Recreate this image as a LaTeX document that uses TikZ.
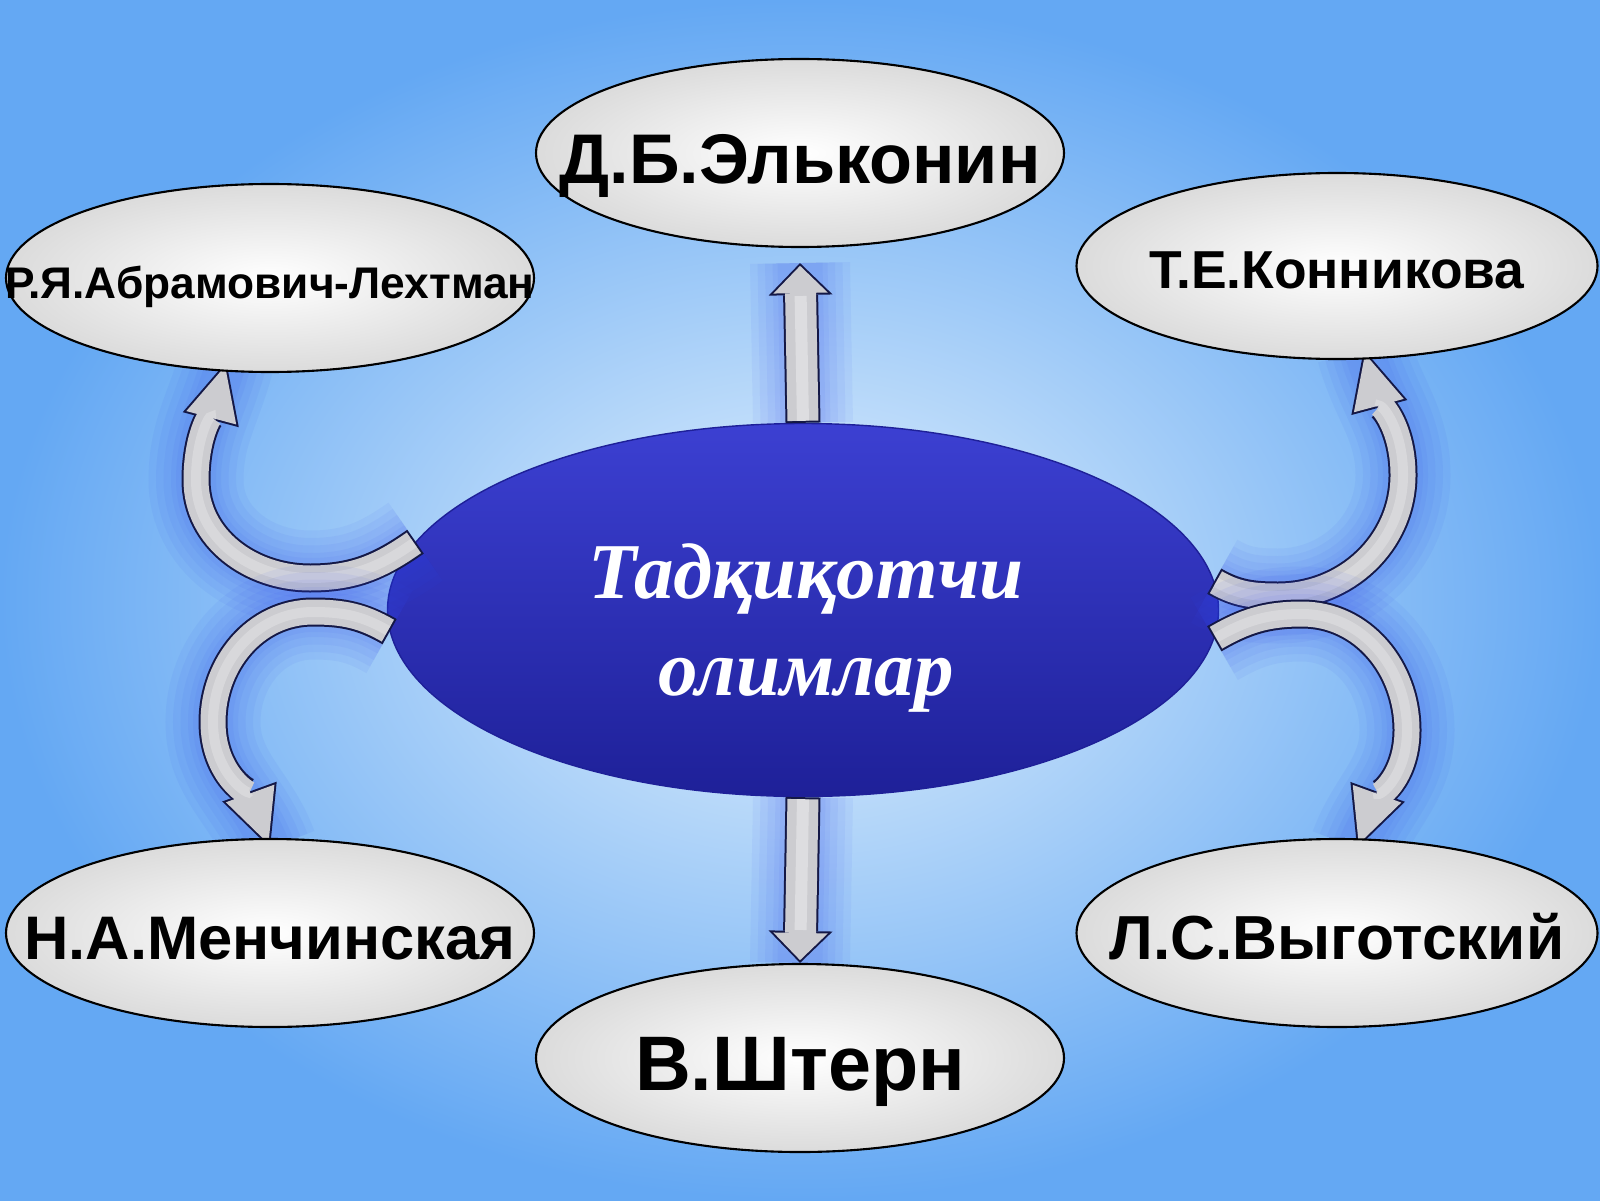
\documentclass[tikz,border=0pt]{standalone}
\usepackage{fontspec}
\setmainfont{Liberation Sans}
\newfontfamily\titlefont{Liberation Serif}
\usetikzlibrary{shapes.geometric,arrows.meta}
\definecolor{skyout}{RGB}{100,168,243}
\definecolor{skyin}{RGB}{228,242,253}
\definecolor{ovaltop}{RGB}{60,64,210}
\definecolor{ovalbot}{RGB}{30,32,152}
\definecolor{arrowgrey}{RGB}{204,204,208}
\definecolor{arrowedge}{RGB}{20,24,70}
\definecolor{glowblue}{RGB}{45,70,240}
\pgfdeclarelayer{back}
\pgfdeclarelayer{links}
\pgfsetlayers{back,links,main}
\newcommand{\sciname}[2]{\makebox[0pt]{\raisebox{#1}[0pt][0pt]{#2}}}

\begin{document}
\begin{tikzpicture}
	\tikzset{person/.style = {shape=ellipse,draw=black,line width=0.6pt,inner sep=0pt,inner color=white,outer color=gray!28,minimum width=5.28cm,minimum height=1.88cm}}
	\tikzset{centre/.style = {shape=ellipse,draw=ovalbot,top color=ovaltop,bottom color=ovalbot,minimum width=8.31cm,minimum height=3.73cm}}
	\tikzset{glow/.style = {preaction={draw=glowblue,opacity=0.06,line width=#1,-,shorten >=0pt,shorten <=0pt}}}
	\tikzset{straight/.style = {draw=arrowgrey,line width=0.31cm,-{Triangle[width=0.544cm,length=0.272cm,line width=0pt]},shorten >=0.028cm,shorten <=0.02cm,
		glow=1.0cm,glow=0.85cm,glow=0.7cm,glow=0.55cm,glow=0.45cm,
		preaction={draw=arrowedge,line width=0.35cm,-{Triangle[width=0.64cm,length=0.32cm,line width=0pt]},shorten >=0pt,shorten <=0pt},
		postaction={draw=white,opacity=0.35,line width=0.12cm,-,shorten >=0.33cm,shorten <=0.02cm}}}
	\tikzset{bent/.style = {draw=arrowgrey,line width=0.25cm,-{Triangle[width=0.516cm,length=0.534cm,line width=0pt]},shorten >=0.046cm,shorten <=0.02cm,
		glow=0.95cm,glow=0.8cm,glow=0.65cm,glow=0.5cm,glow=0.4cm,
		preaction={draw=arrowedge,line width=0.29cm,-{Triangle[width=0.58cm,length=0.6cm,line width=0pt]},shorten >=0pt,shorten <=0pt},
		postaction={draw=white,opacity=0.25,line width=0.1cm,-,shorten >=0.6cm,shorten <=0.02cm}}}
	\useasboundingbox (0,0) rectangle (16,12);
	% the six names
	\node[person,font=\fontsize{20}{24}\selectfont\bfseries] (elk) at (8.00,10.47) {\sciname{-0.31cm}{Д.Б.Эльконин}};
	\node[person,font=\fontsize{12.6}{15}\selectfont\bfseries] (abr) at (2.70,9.22) {\sciname{-0.20cm}{Р.Я.Абрамович-Лехтман}};
	\node[person,minimum width=5.21cm,minimum height=1.86cm,font=\fontsize{15.2}{18}\selectfont\bfseries] (kon) at (13.37,9.34) {\sciname{-0.22cm}{Т.Е.Конникова}};
	\node[person,font=\fontsize{17.5}{21}\selectfont\bfseries] (men) at (2.70,2.67) {\sciname{-0.26cm}{Н.А.Менчинская}};
	\node[person,minimum width=5.21cm,font=\fontsize{17.7}{21}\selectfont\bfseries] (vyg) at (13.37,2.67) {\sciname{-0.26cm}{Л.С.Выготский}};
	\node[person,font=\fontsize{22}{26}\selectfont\bfseries] (sht) at (8.00,1.42) {\sciname{-0.32cm}{В.Штерн}};
	\begin{pgfonlayer}{back}
		\shade[inner color=skyin,outer color=skyout] (0,0) rectangle (16,12);
		\node[centre] (cen) at (8.03,5.90) {};
		\node[text=white,align=center,font=\titlefont\fontsize{22.5}{27.5}\selectfont\bfseries\itshape] (title) at (8.06,5.72) {Тадқиқотчи\\олимлар};
	\end{pgfonlayer}
	% arrows
	\begin{pgfonlayer}{links}
		\draw[straight] (cen.north) -- ([yshift=-0.15cm]elk.south);
		\draw[straight] (cen.south) -- (sht.north);
		\draw[bent] (cen.170) to[out=215,in=0] (3.10,6.22) to[out=180,in=270] (1.96,7.20) to[out=90,in=255] ([yshift=1mm]abr.245);
		\draw[bent] (cen.183) to[out=150,in=0] (3.13,5.88) to[out=180,in=90] (2.13,4.78) to[out=270,in=110] ([yshift=-1mm]men.north);
		\draw[bent] (cen.4) to[out=-30,in=180] (12.78,6.04) to[out=0,in=270] (14.03,7.25) to[out=90,in=285] ([yshift=1mm]kon.286);
		\draw[bent] (cen.356) to[out=30,in=180] (13.02,5.86) to[out=0,in=90] (14.07,4.70) to[out=270,in=70] ([yshift=-1mm]vyg.78);
	\end{pgfonlayer}
\end{tikzpicture}
\end{document}
